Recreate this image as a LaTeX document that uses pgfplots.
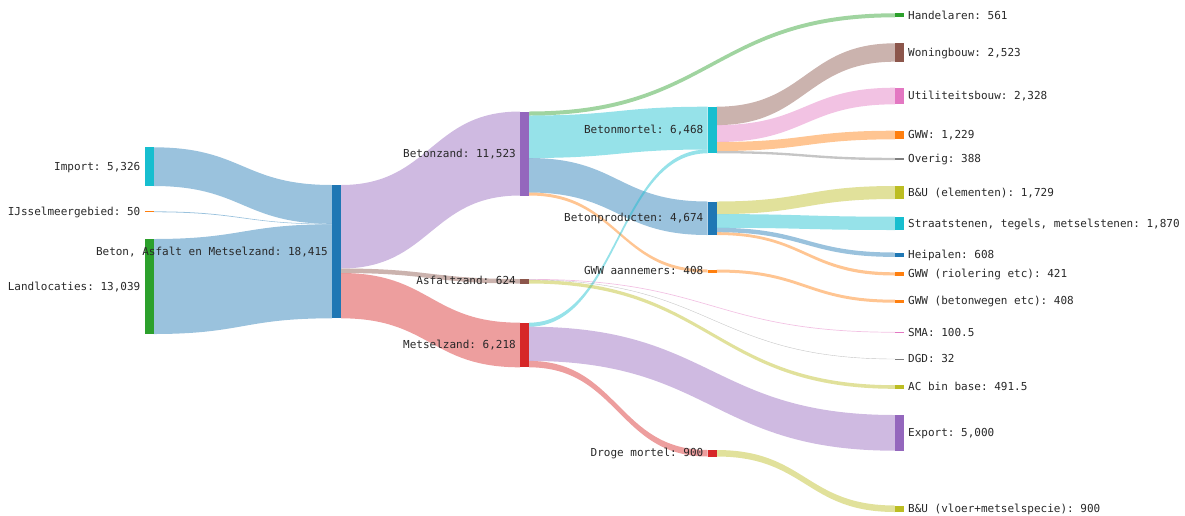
\documentclass[border=0pt]{standalone}
\usepackage{fontspec}
\setmonofont{DejaVu Sans Mono}
\usepackage{pgfplots}
\pgfplotsset{compat=1.18}
\definecolor{cblue}{HTML}{1F77B4}
\definecolor{corange}{HTML}{FF7F0E}
\definecolor{cgreen}{HTML}{2CA02C}
\definecolor{cred}{HTML}{D62728}
\definecolor{cpurple}{HTML}{9467BD}
\definecolor{cbrown}{HTML}{8C564B}
\definecolor{cpink}{HTML}{E377C2}
\definecolor{cgray}{HTML}{7F7F7F}
\definecolor{colive}{HTML}{BCBD22}
\definecolor{ccyan}{HTML}{17BECF}
\definecolor{ctext}{RGB}{40,40,40}
% link: x0, a0, b0, x1, a1, b1, colour
\newcommand{\lnk}[7]{%
  \pgfmathsetmacro{\xm}{(#1+#4)/2}%
  \edef\tmp{\noexpand\fill[#7, fill opacity=0.45] (axis cs:#1,#2) .. controls (axis cs:\xm,#2) and (axis cs:\xm,#5) .. (axis cs:#4,#5) -- (axis cs:#4,#6) .. controls (axis cs:\xm,#6) and (axis cs:\xm,#3) .. (axis cs:#1,#3) -- cycle;}%
  \tmp}
% node: x0, x1, y0, y1, colour
\newcommand{\nd}[5]{\addplot[fill=#5,draw=none,forget plot] coordinates {(#1,#3) (#2,#3) (#2,#4) (#1,#4)} -- cycle;}
\newcommand{\lbl}[4]{\node[anchor=#1, inner sep=0pt, text height=7.5pt, text depth=0pt, text=ctext, font=\ttfamily\fontsize{11}{13}\selectfont] at (axis cs:#2,#3) {#4};}
\begin{document}
\begin{tikzpicture}
\begin{axis}[width=1185pt, height=515pt, scale only axis, xmin=0, xmax=1185, ymin=0, ymax=515, y dir=reverse, hide axis, clip=false]
% ---- links: col0 -> col1
\lnk{153.5}{147.3}{186}{332}{185}{223.8}{cblue}
\lnk{153.5}{211.4}{212.2}{332}{223.8}{224.3}{cblue}
\lnk{153.5}{239}{334}{332}{224.3}{318.3}{cblue}
% col1 -> col2
\lnk{341}{185}{268.5}{520}{111.5}{195.5}{cpurple}
\lnk{341}{268.5}{273}{520}{279}{283.5}{cbrown}
\lnk{341}{273}{318.3}{520}{322.7}{367.3}{cred}
% col2 -> col3
\lnk{529}{115.5}{158}{707.5}{106.7}{149.5}{ccyan}
\lnk{529}{158}{192.5}{707.5}{201.5}{235}{cblue}
\lnk{529}{192.5}{195.5}{707.5}{269.5}{272.5}{corange}
\lnk{529}{322.7}{326.7}{707.5}{149.5}{153.3}{ccyan}
\lnk{529}{360.9}{367.3}{707.5}{450}{456.5}{cred}
% col2 -> col4
\lnk{529}{111.5}{115.5}{895}{13.3}{17.3}{cgreen}
\lnk{529}{326.7}{360.9}{895}{415}{450.7}{cpurple}
\lnk{529}{279}{279.7}{895}{331.9}{332.6}{cpink}
\lnk{529}{279.7}{280.1}{895}{358.8}{359.2}{cgray}
\lnk{529}{280.1}{283.5}{895}{385.2}{388.8}{colive}
% col3 -> col4
\lnk{716.5}{106.7}{125.1}{895}{43.3}{61.7}{cbrown}
\lnk{716.5}{125.1}{142}{895}{87.7}{104.3}{cpink}
\lnk{716.5}{142}{151}{895}{130.7}{139.3}{corange}
\lnk{716.5}{151}{153.3}{895}{157.8}{160.2}{cgray}
\lnk{716.5}{201.5}{214.1}{895}{186}{199}{colive}
\lnk{716.5}{214.1}{227.8}{895}{216.7}{230}{ccyan}
\lnk{716.5}{227.8}{232.2}{895}{252.5}{256.9}{cblue}
\lnk{716.5}{232.2}{235}{895}{272.3}{275.5}{corange}
\lnk{716.5}{269.5}{272.5}{895}{299.7}{302.7}{corange}
\lnk{716.5}{450}{456.5}{895}{505.5}{512}{colive}
% ---- nodes
\nd{144.5}{153.5}{147.3}{186}{ccyan}
\nd{144.5}{153.5}{211.3}{212.3}{corange}
\nd{144.5}{153.5}{239}{334}{cgreen}
\nd{332}{341}{185}{318.3}{cblue}
\nd{520}{529}{111.5}{195.5}{cpurple}
\nd{520}{529}{279}{283.5}{cbrown}
\nd{520}{529}{322.7}{367.3}{cred}
\nd{707.5}{716.5}{106.7}{153.3}{ccyan}
\nd{707.5}{716.5}{201.5}{235}{cblue}
\nd{707.5}{716.5}{269.5}{272.5}{corange}
\nd{707.5}{716.5}{450}{456.5}{cred}
\nd{895}{904}{13.3}{17.3}{cgreen}
\nd{895}{904}{43.3}{61.7}{cbrown}
\nd{895}{904}{87.7}{104.3}{cpink}
\nd{895}{904}{130.7}{139.3}{corange}
\nd{895}{904}{157.8}{160.2}{cgray}
\nd{895}{904}{186}{199}{colive}
\nd{895}{904}{216.7}{230}{ccyan}
\nd{895}{904}{252.5}{256.9}{cblue}
\nd{895}{904}{272.3}{275.5}{corange}
\nd{895}{904}{299.7}{302.7}{corange}
\nd{895}{904}{331.8}{332.8}{cpink}
\nd{895}{904}{358.5}{359.5}{cgray}
\nd{895}{904}{385.2}{388.8}{colive}
\nd{895}{904}{415}{450.7}{cpurple}
\nd{895}{904}{505.5}{512}{colive}
% ---- labels
\lbl{east}{140.5}{166.6}{Import: 5,326}
\lbl{east}{140.5}{211.8}{IJsselmeergebied: 50}
\lbl{east}{140.5}{286.5}{Landlocaties: 13,039}
\lbl{east}{328}{251.6}{Beton, Asfalt en Metselzand: 18,415}
\lbl{east}{516}{153.5}{Betonzand: 11,523}
\lbl{east}{516}{281.2}{Asfaltzand: 624}
\lbl{east}{516}{345}{Metselzand: 6,218}
\lbl{east}{703.5}{130}{Betonmortel: 6,468}
\lbl{east}{703.5}{218.2}{Betonproducten: 4,674}
\lbl{east}{703.5}{271}{GWW aannemers: 408}
\lbl{east}{703.5}{453.2}{Droge mortel: 900}
\lbl{west}{908}{15.3}{Handelaren: 561}
\lbl{west}{908}{52.5}{Woningbouw: 2,523}
\lbl{west}{908}{96}{Utiliteitsbouw: 2,328}
\lbl{west}{908}{135}{GWW: 1,229}
\lbl{west}{908}{159}{Overig: 388}
\lbl{west}{908}{192.5}{B\&U (elementen): 1,729}
\lbl{west}{908}{223.4}{Straatstenen, tegels, metselstenen: 1,870}
\lbl{west}{908}{254.7}{Heipalen: 608}
\lbl{west}{908}{273.9}{GWW (riolering etc): 421}
\lbl{west}{908}{301.2}{GWW (betonwegen etc): 408}
\lbl{west}{908}{332.3}{SMA: 100.5}
\lbl{west}{908}{359}{DGD: 32}
\lbl{west}{908}{387}{AC bin base: 491.5}
\lbl{west}{908}{432.9}{Export: 5,000}
\lbl{west}{908}{508.8}{B\&U (vloer+metselspecie): 900}
\end{axis}
\pgfresetboundingbox
\path (current axis.south west) rectangle (current axis.north east);
\end{tikzpicture}
\end{document}
